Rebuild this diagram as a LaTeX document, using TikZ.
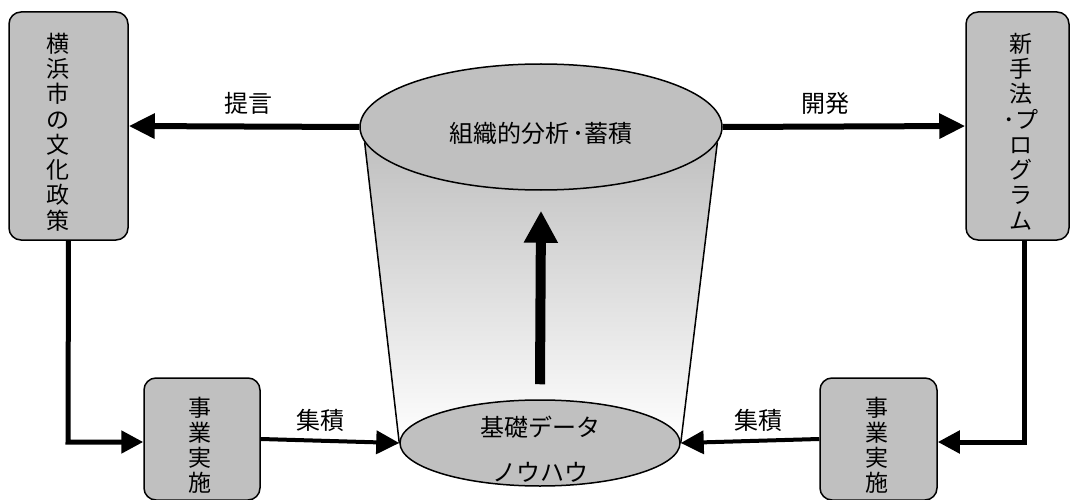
\documentclass[tikz,border=0pt]{standalone}
\usepackage{fontspec}
\setmainfont{Noto Sans CJK JP}
\usetikzlibrary{arrows.meta,shapes.geometric,positioning,calc,backgrounds}
\definecolor{boxgray}{HTML}{C0C0C0}
\setlength{\lineskiplimit}{-50pt}

\tikzset{
  box/.style={draw,line width=1.5pt,fill=boxgray,rounded corners=12pt,inner sep=0pt},
  pot/.style={draw,line width=1.5pt,fill=boxgray,ellipse,inner sep=0pt},
  lbl/.style={font=\fontsize{24}{30}\selectfont},
  vlbl/.style={align=center,inner sep=0pt,font=\fontsize{23}{#1}\selectfont},
  bigflow/.style={line width=6pt,-{Triangle[length=26pt,width=24pt]}},
  sideflow/.style={line width=5pt,-{Triangle[length=22pt,width=22pt]}},
  gather/.style={line width=4pt,-{Triangle[length=23pt,width=23pt]}},
  rise/.style={line width=10pt,-{Triangle[length=32pt,width=32pt]}}
}

\begin{document}
\begin{tikzpicture}[x=1pt,y=1pt]
	\useasboundingbox (0,0) rectangle (1071,499);
	% side boxes
	\node[box,minimum width=119pt,minimum height=228pt] (policy) at (68.5,373) {};
	\node[vlbl=25.3] (policytext) at (58,367) {横\\浜\\市\\の\\文\\化\\政\\策};
	\node[box,minimum width=103pt,minimum height=228pt] (method) at (1017.5,373) {};
	\node[vlbl=25.3] (methodtext) at (1021,367.5) {新\\手\\法\\･プ\\ロ\\グ\\ラ\\ム};
	\node[box,minimum width=116pt,minimum height=122pt] (implL) at (202,60) {};
	\node[vlbl=25] (implLtext) at (200,53.5) {事\\業\\実\\施};
	\node[box,minimum width=117pt,minimum height=122pt] (implR) at (878.5,60) {};
	\node[vlbl=25] (implRtext) at (877,53.5) {事\\業\\実\\施};
	% bucket
	\node[pot,minimum width=280pt,minimum height=86pt] (base) at (540,56) {};
	\node[align=center,inner sep=0pt,font=\fontsize{24}{45}\selectfont] (basetext) at (540,50) {基礎データ\\ノウハウ};
	\node[pot,minimum width=362pt,minimum height=126pt] (analysis) at (541,372) {};
	\node[lbl] (analysistext) at (541,366) {組織的分析\hspace{4pt}･蓄積};
	\begin{scope}[on background layer]
	\fill[top color=boxgray,bottom color=white] (analysis.185) -- (base.west) -- (base.east) -- (analysis.-5) -- cycle;
	\draw[line width=1.5pt] (analysis.185) -- (base.west);
	\draw[line width=1.5pt] (analysis.-5) -- (base.east);
	\end{scope}
	% flows
	\draw[bigflow] (analysis.west) -- (policy.east);
	\draw[bigflow] (analysis.east) -- (method.west);
	\node[lbl] (propose) at (248,396) {提言};
	\node[lbl] (develop) at (825,396) {開発};
	\coordinate (lowL) at (68,57);
	\coordinate (lowR) at (1024,57);
	\draw[sideflow] (policy.south) -- (lowL) -- (implL.west |- lowL);
	\draw[sideflow] (method.south -| lowR) -- (lowR) -- (implR.east |- lowR);
	\draw[gather] (implL.east) -- (base.west);
	\draw[gather] (implR.west) -- (base.east);
	\node[lbl] (gatherL) at (320,79) {集積};
	\node[lbl] (gatherR) at (758,79) {集積};
	\draw[rise] ([yshift=15pt]base.north) -- ([yshift=-20pt]analysis.south);
\end{tikzpicture}
\end{document}
